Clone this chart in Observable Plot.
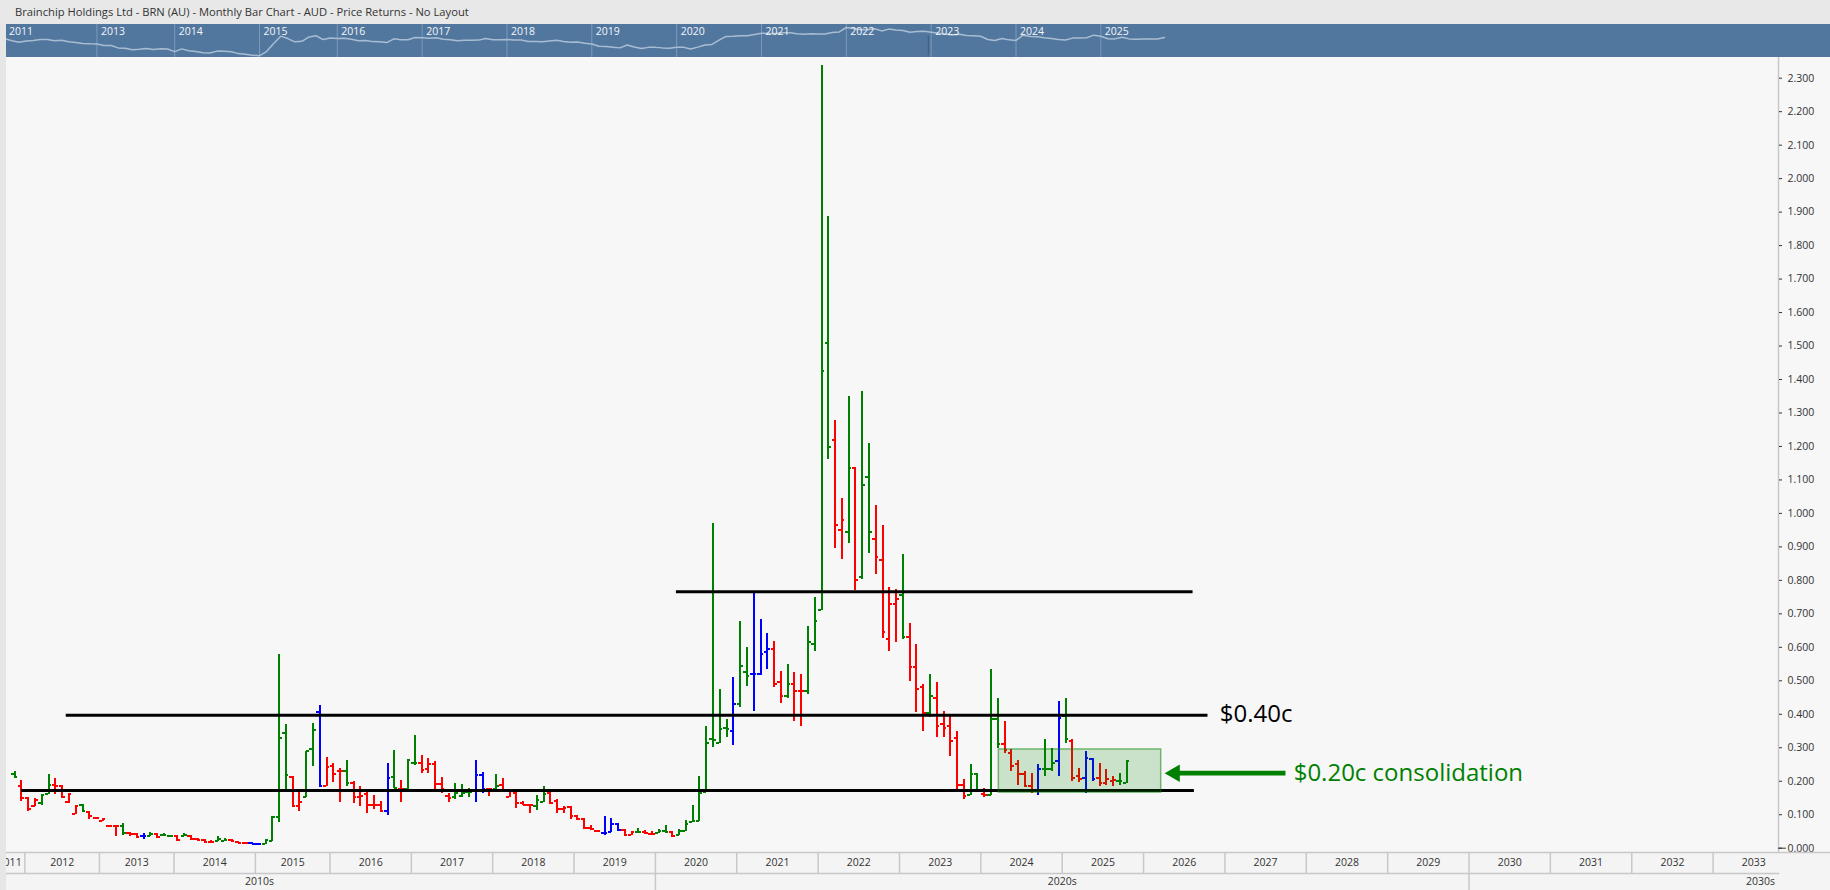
<!DOCTYPE html>
<html>
<head>
<meta charset="utf-8">
<script src="https://cdn.jsdelivr.net/npm/d3@7"></script>
<script src="https://cdn.jsdelivr.net/npm/@observablehq/plot@0.6"></script>
<style>
html,body{margin:0;padding:0;width:1830px;height:890px;overflow:hidden;background:#f7f7f7;font-family:"Open Sans",sans-serif}
#title{position:absolute;left:0;top:0;width:1830px;height:24px;line-height:24px;background:#e8e8e8;color:#333;font-size:11.2px;padding-left:15px;box-sizing:border-box}
.slot{position:absolute;left:0;width:1830px}
.slot svg{display:block}
#gutter{position:absolute;left:0;top:24px;width:6px;height:866px;background:#e6e6e6;z-index:5}
</style>
</head>
<body>
<div id="title">Brainchip Holdings Ltd - BRN (AU) - Monthly Bar Chart - AUD - Price Returns - No Layout</div>
<div class="slot" id="overview" style="top:24px"></div>
<div class="slot" id="main" style="top:57px"></div>
<div class="slot" id="years" style="top:852px"></div>
<div class="slot" id="decades" style="top:873px"></div>
<div id="gutter"></div>
<script>
// Monthly bars, one entry per traded bar, left to right
const highs = [
.229,.203,.150,.148,.160,.220,.208,.187,.163,.128,.130,.111,.093,.089,.068,.068,.074,.047,.045,.045,
.047,.043,.044,.038,.037,.045,.039,.028,.026,.023,.035,.029,.026,.020,.017,.017,.013,.026,.096,.580,
.369,.214,.168,.289,.372,.426,.270,.252,.238,.263,.198,.183,.165,.157,.140,.253,.292,.203,.262,.338,
.278,.268,.260,.211,.164,.193,.190,.178,.262,.226,.178,.220,.208,.175,.167,.140,.132,.157,.184,.168,
.144,.124,.124,.099,.089,.069,.053,.096,.089,.074,.055,.051,.059,.053,.050,.056,.068,.051,.055,.082,
.127,.214,.363,.971,.475,.384,.511,.678,.600,.762,.684,.642,.618,.529,.550,.526,.520,.663,.750,2.339,
1.888,1.278,1.044,1.350,1.138,1.365,1.210,1.024,.965,.780,.774,.878,.672,.608,.489,.519,.496,.409,.392,.349,
.206,.250,.222,.178,.534,.447,.379,.295,.263,.230,.224,.250,.325,.299,.439,.447,.325,.238,.290,.268,
.254,.236,.215,.224,.262];
const lows = [
.210,.139,.109,.124,.127,.160,.160,.147,.135,.101,.111,.085,.085,.079,.065,.034,.039,.035,.031,.027,
.035,.028,.034,.035,.021,.034,.025,.023,.017,.016,.019,.019,.020,.016,.014,.012,.011,.011,.019,.076,
.175,.122,.109,.150,.245,.185,.185,.195,.138,.185,.135,.126,.103,.115,.109,.097,.177,.138,.175,.248,
.222,.222,.175,.163,.138,.145,.150,.150,.138,.162,.153,.175,.172,.150,.120,.128,.103,.112,.136,.130,
.103,.103,.085,.083,.056,.053,.047,.037,.046,.051,.037,.039,.046,.041,.040,.044,.046,.031,.037,.049,
.078,.079,.165,.300,.312,.330,.306,.419,.484,.409,.517,.535,.481,.433,.448,.379,.364,.460,.588,.711,
1.160,.894,.861,.909,.770,.802,.879,.819,.625,.588,.615,.624,.499,.404,.349,.389,.330,.330,.275,.165,
.144,.157,.175,.150,.157,.297,.282,.230,.188,.180,.164,.156,.215,.230,.215,.312,.200,.195,.164,.200,
.185,.188,.185,.188,.192];
const opens = [
.222,.185,.150,.125,.135,.163,.188,.185,.137,.103,.128,.108,.089,.080,.067,.065,.067,.044,.043,.035,
.037,.041,.039,.037,.037,.037,.037,.027,.024,.019,.021,.023,.024,.019,.015,.016,.012,.012,.021,.094,
.344,.213,.125,.152,.296,.407,.185,.245,.230,.232,.195,.152,.162,.128,.128,.111,.213,.178,.177,.255,
.255,.238,.252,.192,.155,.152,.157,.168,.172,.219,.177,.178,.190,.152,.165,.135,.129,.125,.137,.164,
.140,.117,.122,.095,.088,.060,.051,.045,.048,.073,.054,.040,.049,.049,.043,.046,.051,.049,.039,.051,
.078,.081,.167,.325,.315,.358,.349,.431,.526,.520,.520,.585,.594,.496,.454,.490,.469,.469,.609,.711,
1.509,1.219,.951,.944,1.135,.809,1.108,.923,.860,.624,.729,.756,.630,.542,.481,.403,.449,.370,.364,.330,
.188,.159,.222,.162,.159,.387,.312,.285,.251,.222,.185,.170,.238,.236,.260,.394,.321,.216,.209,.267,
.209,.195,.200,.201,.194];
const closes = [
.213,.150,.117,.145,.158,.188,.185,.152,.162,.126,.111,.095,.089,.087,.067,.067,.045,.043,.033,.036,
.041,.034,.039,.037,.024,.038,.028,.024,.020,.019,.026,.025,.023,.017,.015,.013,.012,.024,.094,.329,
.218,.125,.138,.289,.352,.185,.242,.222,.230,.195,.152,.157,.130,.128,.111,.210,.180,.177,.262,.255,
.235,.252,.192,.177,.150,.165,.165,.168,.219,.178,.177,.186,.172,.170,.135,.130,.128,.144,.162,.135,
.117,.120,.097,.088,.059,.056,.050,.045,.073,.053,.040,.049,.049,.045,.043,.051,.049,.037,.051,.073,
.080,.166,.315,.322,.355,.355,.431,.545,.514,.520,.579,.594,.491,.454,.490,.470,.469,.615,.678,1.425,
1.198,.965,.980,1.135,.800,1.084,.944,.869,.645,.729,.744,.630,.542,.475,.403,.454,.364,.359,.320,.188,
.156,.222,.175,.160,.387,.312,.293,.246,.222,.185,.170,.236,.238,.254,.389,.327,.210,.207,.270,.207,
.195,.207,.205,.201,.261];
const barColours = ("g r r r g g r r r r g r r r r r g r r b g r g g r g r r r r g g r r r b b g g g " +
"g r r g g b r r r g r r r r r b g r g g r r r r r g g g b b r g r r r r r g g r " +
"r r r r r r r b b b r r g r r g g r g g g g g g g g b g g b b b r r g r r g g g " +
"g r r g r g g r r r r g r r r g r r r r r g g r g g r r r r r b g g b g r r b b " +
"r r r g g").split(" ");
const colourOf = {g:"#008000", r:"#ff0000", b:"#0000ff"};

// Time axis: edges are positions on the bar index, between bars
const yearLabels = ["2011","2012","2013","2014","2015","2016","2017","2018","2019","2020","2021","2022","2023","2024","2025","2026","2027","2028","2029","2030","2031","2032","2033"];
const yearEdges = [-3,1.5,12.5,23.5,35.5,46.5,58.5,70.5,82.5,94.5,106.5,118.5,130.5,142.5,154.5,166.5,178.5,190.5,202.5,214.5,226.5,238.5,250.5,262.5];
const decadeLabels = ["2010s","2020s","2030s"];
const decadeCentres = [36.1,154.5,257.5];
const decadeEdges = [94.5,214.5];

// Overview strip
const overviewLabels = ["2011","2013","2014","2015","2016","2017","2018","2019","2020","2021","2022","2023","2024","2025"];
const overviewBars = [0,13,24,36,47,59,71,83,95,107,119,131,143,155];

// Price axis and annotations
const priceTicks = [0,.1,.2,.3,.4,.5,.6,.7,.8,.9,1,1.1,1.2,1.3,1.4,1.5,1.6,1.7,1.8,1.9,2,2.1,2.2,2.3];
const levels = [
  {price:.172, from:1, to:174},
  {price:.397, from:7.6, to:176},
  {price:.766, from:97.6, to:173.8}
];
const zone = {from:145.15, to:169.1, top:.295, bottom:.166};
const axisEnd = 260.15;

const bars = highs.map((h,i)=>({i, high:h, low:lows[i], open:opens[i], close:closes[i], colour:colourOf[barColours[i]]}));
const font = {fontFamily:'"Open Sans",sans-serif', overflow:"visible", display:"block"};
const W = 1830;
const green = "#008000";
const xMain = {axis:null, domain:[0,260], range:[14.2, 14.2+6.78*260]};
const tick = 0.45;

const overview = Plot.plot({
  width:W, height:33, margin:0,
  style:{...font, background:"#52779f"},
  x:{axis:null, domain:[0,260], range:[4.5, 4.5+7.07*260]},
  y:{axis:null, type:"log", domain:[0.0088,2.37], range:[33,0]},
  marks:[
    Plot.ruleX(overviewBars.slice(1),{stroke:"#ffffff", strokeOpacity:.25}),
    Plot.line(bars,{x:"i", y:"close", stroke:"#a9bdd2", strokeWidth:1.5}),
    Plot.ruleX([130.6],{y1:.3, y2:.012, stroke:"#2e4a66", strokeOpacity:.6}),
    Plot.text(overviewLabels,{x:(d,i)=>overviewBars[i], text:d=>d, frameAnchor:"top", dy:3, lineAnchor:"top", textAnchor:"start", dx:4, fill:"#f4f6f9", fontSize:10.5})
  ]
});
document.getElementById("overview").append(overview);

const main = Plot.plot({
  width:W, height:795, marginLeft:0, marginTop:0, marginBottom:0, marginRight:52,
  style:{...font, background:"#f7f7f7"},
  color:{type:"identity"},
  x:xMain,
  y:{axis:null, domain:[0,2.3], range:[790.7,20.7]},
  marks:[
    Plot.ruleX([axisEnd],{stroke:"#c8c8c8", strokeWidth:1.5}),
    Plot.axisY({anchor:"right", ticks:priceTicks, tickFormat:d3.format(".3f"), tickSize:3, tickPadding:6, fontSize:10.5, label:null, color:"#333"}),
    Plot.ruleY([0],{x1:axisEnd, x2:261.3, stroke:"#333"}),
    Plot.ruleX(bars,{x:"i", y1:"low", y2:"high", stroke:"colour", strokeWidth:2, shapeRendering:"crispEdges"}),
    Plot.ruleY(bars,{y:"open", x1:d=>d.i-tick, x2:"i", stroke:"colour", strokeWidth:2, shapeRendering:"crispEdges"}),
    Plot.ruleY(bars,{y:"close", x1:"i", x2:d=>d.i+tick, stroke:"colour", strokeWidth:2, shapeRendering:"crispEdges"}),
    Plot.ruleY(levels,{y:"price", x1:"from", x2:"to", stroke:"#000", strokeWidth:3}),
    Plot.rect([zone],{x1:"from", x2:"to", y1:"bottom", y2:"top", fill:green, fillOpacity:.18, stroke:green, strokeOpacity:.5, strokeWidth:1.5}),
    Plot.ruleY([.224],{x1:171.1, x2:187.5, stroke:green, strokeWidth:4.7}),
    Plot.dot([.224],{x:171.1, y:d=>d, symbol:"triangle", r:6.5, rotate:-90, fill:green, stroke:"none"}),
    Plot.text(["$0.40c"],{x:177.73, y:.4, text:d=>d, textAnchor:"start", fontSize:24, fill:"#000"}),
    Plot.text(["$0.20c consolidation"],{x:188.64, y:.224, text:d=>d, textAnchor:"start", fontSize:24, fill:green})
  ]
});
document.getElementById("main").append(main);

const years = Plot.plot({
  width:W, height:21, margin:0,
  style:{...font, background:"#f4f4f4"},
  x:xMain,
  marks:[
    Plot.frame({anchor:"top", stroke:"#c8c8c8", strokeWidth:1.5}),
    Plot.ruleX(yearEdges.slice(1,-1),{stroke:"#c8c8c8", strokeWidth:1.5}),
    Plot.text(yearLabels,{x:(d,i)=>(yearEdges[i]+yearEdges[i+1])/2, text:d=>d, frameAnchor:"middle", fontSize:10.5, fill:"#333"})
  ]
});
document.getElementById("years").append(years);

const decades = Plot.plot({
  width:W, height:17, marginLeft:0, marginTop:0, marginBottom:0, marginRight:52,
  style:{...font, background:"#f4f4f4"},
  x:xMain,
  marks:[
    Plot.frame({anchor:"top", stroke:"#c8c8c8", strokeWidth:1.5}),
    Plot.ruleX(decadeEdges,{stroke:"#c8c8c8", strokeWidth:1.5}),
    Plot.text(decadeLabels,{x:(d,i)=>decadeCentres[i], text:d=>d, frameAnchor:"middle", fontSize:10.5, fill:"#333"})
  ]
});
document.getElementById("decades").append(decades);
</script>
</body>
</html>
